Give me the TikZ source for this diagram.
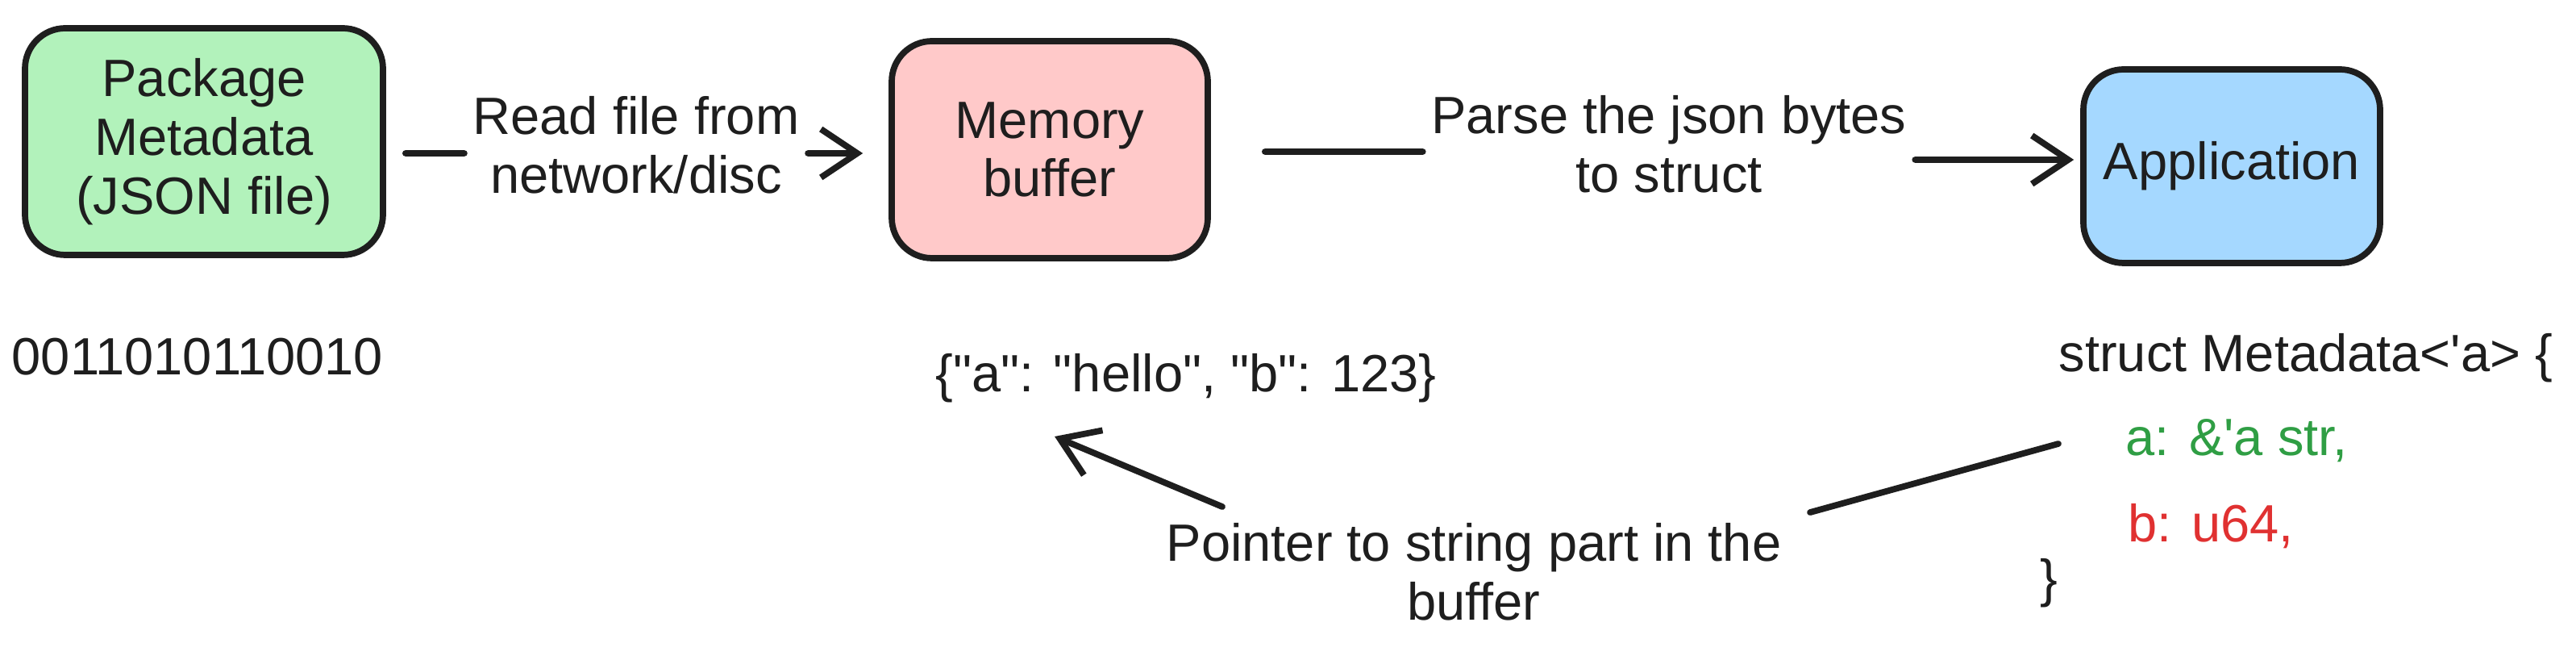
\documentclass[tikz,border=0pt]{standalone}
\usepackage{fontspec}
\newfontfamily\handfont{Liberation Sans}
\usetikzlibrary{arrows.meta}
\definecolor{ink}{HTML}{1E1E1E}
\definecolor{mint}{HTML}{B2F2BB}
\definecolor{blush}{HTML}{FFC9C9}
\definecolor{sky}{HTML}{A5D8FF}
\definecolor{leaf}{HTML}{2F9E44}
\definecolor{brick}{HTML}{E03131}
\begin{document}
\begin{tikzpicture}[
        font=\handfont\fontsize{18.5}{20.7}\selectfont,
        text=ink,
        blockbox/.style={draw=ink, line width=2.2pt, rounded corners=0.5cm, align=center},
        edgelabel/.style={align=center, inner sep=0.1cm},
        wire/.style={draw=ink, line width=2.2pt, line cap=round},
        headarrow/.style={-{Straight Barb[length=0.45cm,width=0.6cm]}}
    ]
                \tikzstyle{every node}+=[inner sep=0pt]
                \useasboundingbox (0,0) rectangle (31.95,-8.18);
                \node [blockbox, fill=mint, minimum width=4.44cm, minimum height=2.81cm] (pkg) at (2.53,-1.755) {Package\\Metadata\\(JSON file)};
                \node [blockbox, fill=blush, minimum width=3.92cm, minimum height=2.69cm] (mem) at (13.02,-1.855) {Memory\\buffer};
                \node [blockbox, fill=sky, minimum width=3.68cm, minimum height=2.40cm] (app) at (27.68,-2.06) {Application};
                \node [edgelabel] (readlbl) at (7.89,-1.80) {Read file from\\network/disc};
                \node [edgelabel] (parselbl) at (20.70,-1.79) {Parse the json bytes\\to struct};
                \node (bits) at (2.45,-4.42) {0011010110010};
                \node (json) at (14.71,-4.69) {\{"a": "hello", "b": 123\}};
                \node [anchor=west] (structhead) at (25.53,-4.44) {struct Metadata<'a> \{};
                \node [anchor=west, text=leaf] (fielda) at (26.36,-5.46) {a: \&'a str,};
                \node [anchor=west, text=brick] (fieldb) at (26.39,-6.52) {b: u64,};
                \node [anchor=west] (structend) at (25.30,-7.23) {\}};
                \node [edgelabel] (ptrlbl) at (18.28,-7.09) {Pointer to string part in the\\buffer};
                \coordinate (ptrtip) at ([shift={(-1.63,-0.41)}]json.south);
                \draw [wire, shorten <=0.24cm] ([yshift=-1.45mm]pkg.east) -- ([yshift=-1mm]readlbl.west);
                \draw [wire, headarrow, shorten >=0.32cm] ([yshift=-1mm]readlbl.east) -- ([yshift=-0.45mm]mem.west);
                \draw [wire, shorten <=0.67cm] ([yshift=-0.25mm]mem.east) -- ([yshift=-0.9mm]parselbl.west);
                \draw [wire, headarrow, shorten >=0.08cm] ([yshift=-1.9mm]parselbl.east) -- ([yshift=0.8mm]app.west);
                \draw [wire] ([shift={(-0.83,-0.04)}]fielda.west) -- ([shift={(0.25,0.03)}]ptrlbl.north east);
                \draw [wire, headarrow] ([shift={(0.8,0.1)}]ptrlbl.north west) -- (ptrtip);
            \end{tikzpicture}
\end{document}
